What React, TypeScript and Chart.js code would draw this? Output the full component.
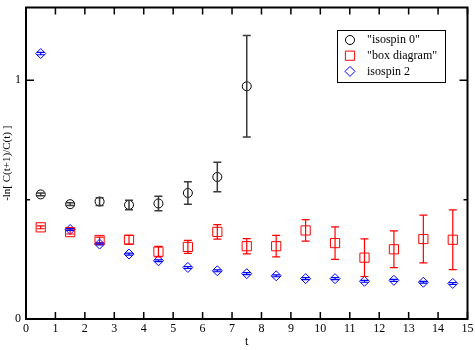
import { useEffect, useRef } from 'react';
import { Chart, registerables } from 'chart.js';

Chart.register(...registerables);

// Time slices (bin centres)
const tValues = [0.5, 1.5, 2.5, 3.5, 4.5, 5.5, 6.5, 7.5, 8.5, 9.5, 10.5, 11.5, 12.5, 13.5, 14.5];

// "isospin 0" effective energies (first 8 slices only)
const isospin0 = [0.522, 0.481, 0.492, 0.478, 0.484, 0.528, 0.595, 0.975];
const isospin0Err = [0.006, 0.006, 0.016, 0.02, 0.03, 0.047, 0.062, 0.213];

// "box diagram"
const boxDiagram = [0.384, 0.364, 0.331, 0.332, 0.282, 0.302, 0.365, 0.305, 0.305, 0.371, 0.318, 0.257, 0.292, 0.335, 0.332];
const boxDiagramErr = [0.006, 0.008, 0.012, 0.018, 0.022, 0.027, 0.03, 0.032, 0.045, 0.045, 0.068, 0.079, 0.077, 0.1, 0.125];

// isospin 2
const isospin2 = [1.112, 0.375, 0.314, 0.272, 0.244, 0.216, 0.202, 0.19, 0.181, 0.169, 0.169, 0.158, 0.162, 0.154, 0.149];
const isospin2Err = [0.005, 0.004, 0.004, 0.004, 0.004, 0.004, 0.004, 0.004, 0.004, 0.004, 0.004, 0.004, 0.004, 0.004, 0.004];

const seriesNames = ['"isospin 0"', '"box diagram"', 'isospin 2'];
const seriesColors = ['#000000', '#ff0000', '#0000ff'];
const errorBarColors = ['#3a3a3a', '#ff0000', '#0000ff'];

const xMin = 0;
const xMax = 15;
const yMin = 0;
const yMax = 1.305;
const yMajorTicks = [0, 1];
const yMinorTicks = [0.5];

const xAxisTitle = 't';
const yAxisTitle = '-ln[ C(t+1)/C(t) ]';

const FONT = '"Liberation Serif", "Times New Roman", serif';

const errorsByDataset = [isospin0Err, boxDiagramErr, isospin2Err];

function drawMarker(ctx: CanvasRenderingContext2D, kind: number, x: number, y: number) {
  ctx.beginPath();
  if (kind === 0) {
    ctx.arc(x, y, 4.5, 0, Math.PI * 2);
  } else if (kind === 1) {
    ctx.rect(x - 4.6, y - 4.6, 9.2, 9.2);
  } else {
    ctx.moveTo(x, y - 5);
    ctx.lineTo(x + 5, y);
    ctx.lineTo(x, y + 5);
    ctx.lineTo(x - 5, y);
    ctx.closePath();
  }
  ctx.stroke();
}

const errorBarsPlugin = {
  id: 'errorBars',
  afterDatasetsDraw(chart: any) {
    const ctx = chart.ctx as CanvasRenderingContext2D;
    const xs = chart.scales.x;
    const ys = chart.scales.y;
    ctx.save();
    chart.data.datasets.forEach((ds: any, i: number) => {
      const errs = errorsByDataset[i];
      ctx.strokeStyle = errorBarColors[i];
      ctx.lineWidth = i === 0 ? 1.5 : 1.2;
      ds.data.forEach((p: any, j: number) => {
        const e = errs[j];
        const px = xs.getPixelForValue(p.x);
        const yTop = ys.getPixelForValue(p.y + e);
        const yBot = ys.getPixelForValue(p.y - e);
        ctx.beginPath();
        ctx.moveTo(px, yTop);
        ctx.lineTo(px, yBot);
        ctx.moveTo(px - 4, yTop);
        ctx.lineTo(px + 4, yTop);
        ctx.moveTo(px - 4, yBot);
        ctx.lineTo(px + 4, yBot);
        ctx.stroke();
      });
    });
    ctx.restore();
  },
};

const framePlugin = {
  id: 'frameAndLegend',
  afterDraw(chart: any) {
    const ctx = chart.ctx as CanvasRenderingContext2D;
    const { left, right, top, bottom } = chart.chartArea;
    const xs = chart.scales.x;
    const ys = chart.scales.y;
    ctx.save();
    ctx.strokeStyle = '#000';
    ctx.lineWidth = 2;
    ctx.strokeRect(left, top, right - left, bottom - top);

    ctx.lineWidth = 1.5;
    ctx.beginPath();
    for (let v = xMin; v <= xMax; v++) {
      const px = xs.getPixelForValue(v);
      ctx.moveTo(px, bottom);
      ctx.lineTo(px, bottom - 7);
      ctx.moveTo(px, top);
      ctx.lineTo(px, top + 7);
    }
    yMajorTicks.forEach((v) => {
      const py = ys.getPixelForValue(v);
      ctx.moveTo(left, py);
      ctx.lineTo(left + 8, py);
      ctx.moveTo(right, py);
      ctx.lineTo(right - 8, py);
    });
    yMinorTicks.forEach((v) => {
      const py = ys.getPixelForValue(v);
      ctx.moveTo(left, py);
      ctx.lineTo(left + 4, py);
      ctx.moveTo(right, py);
      ctx.lineTo(right - 4, py);
    });
    ctx.stroke();

    // legend box
    const lx = 337;
    const ly = 30;
    const lw = 108;
    const lh = 52;
    ctx.fillStyle = '#fff';
    ctx.fillRect(lx, ly, lw, lh);
    ctx.lineWidth = 1;
    ctx.strokeStyle = '#000';
    ctx.strokeRect(lx + 0.5, ly + 0.5, lw, lh);
    ctx.font = `12px ${FONT}`;
    ctx.textBaseline = 'middle';
    ctx.textAlign = 'left';
    seriesNames.forEach((name, i) => {
      const cy = 40 + i * 15.7;
      ctx.strokeStyle = seriesColors[i];
      ctx.lineWidth = 1;
      drawMarker(ctx, i, 350, cy);
      ctx.fillStyle = '#000';
      ctx.fillText(name, 367, cy);
    });
    ctx.restore();
  },
};

export default function App() {
  const canvasRef = useRef<HTMLCanvasElement | null>(null);

  useEffect(() => {
    if (!canvasRef.current) return;
    const toPoints = (ys: number[]) => ys.map((y, i) => ({ x: tValues[i], y }));
    const chart = new Chart(canvasRef.current, {
      type: 'scatter',
      data: {
        datasets: [
          {
            label: seriesNames[0],
            data: toPoints(isospin0),
            pointStyle: 'circle',
            pointRadius: 4.5,
            borderColor: seriesColors[0],
            backgroundColor: 'transparent',
            borderWidth: 1,
          },
          {
            label: seriesNames[1],
            data: toPoints(boxDiagram),
            pointStyle: 'rect',
            pointRadius: 6.5,
            borderColor: seriesColors[1],
            backgroundColor: 'transparent',
            borderWidth: 1,
          },
          {
            label: seriesNames[2],
            data: toPoints(isospin2),
            pointStyle: 'rectRot',
            pointRadius: 5,
            borderColor: seriesColors[2],
            backgroundColor: 'transparent',
            borderWidth: 1,
          },
        ],
      },
      options: {
        animation: false,
        responsive: false,
        devicePixelRatio: 1,
        layout: { padding: { top: 7, right: 4, left: 0, bottom: 0 } },
        plugins: {
          legend: { display: false },
          tooltip: { enabled: false },
        },
        scales: {
          x: {
            type: 'linear',
            min: xMin,
            max: xMax,
            grid: { display: false, drawTicks: false },
            border: { display: false },
            ticks: {
              stepSize: 1,
              autoSkip: false,
              maxRotation: 0,
              padding: 3,
              color: '#000',
              font: { family: FONT, size: 12 },
            },
            title: {
              display: true,
              text: xAxisTitle,
              color: '#000',
              font: { family: FONT, size: 12 },
              padding: { top: 0, bottom: 1 },
            },
            afterFit(s: any) {
              s.height = 31;
              s.paddingLeft = 0;
              s.paddingRight = 0;
            },
          },
          y: {
            type: 'linear',
            min: yMin,
            max: yMax,
            grid: { display: false, drawTicks: false },
            border: { display: false },
            afterBuildTicks(s: any) {
              s.ticks = yMajorTicks.map((v) => ({ value: v }));
            },
            ticks: {
              padding: 5,
              color: '#000',
              font: { family: FONT, size: 12 },
            },
            title: {
              display: true,
              text: yAxisTitle,
              color: '#000',
              font: { family: FONT, size: 11 },
              padding: { top: 1, bottom: 0 },
            },
            afterFit(s: any) {
              s.width = 26;
              s.paddingTop = 0;
              s.paddingBottom = 0;
            },
          },
        },
      },
      plugins: [errorBarsPlugin, framePlugin],
    } as any);
    return () => chart.destroy();
  }, []);

  return (
    <div style={{ position: 'absolute', left: 0, top: 0, width: 475, height: 350, background: '#fff' }}>
      <canvas ref={canvasRef} width={475} height={350} />
    </div>
  );
}
